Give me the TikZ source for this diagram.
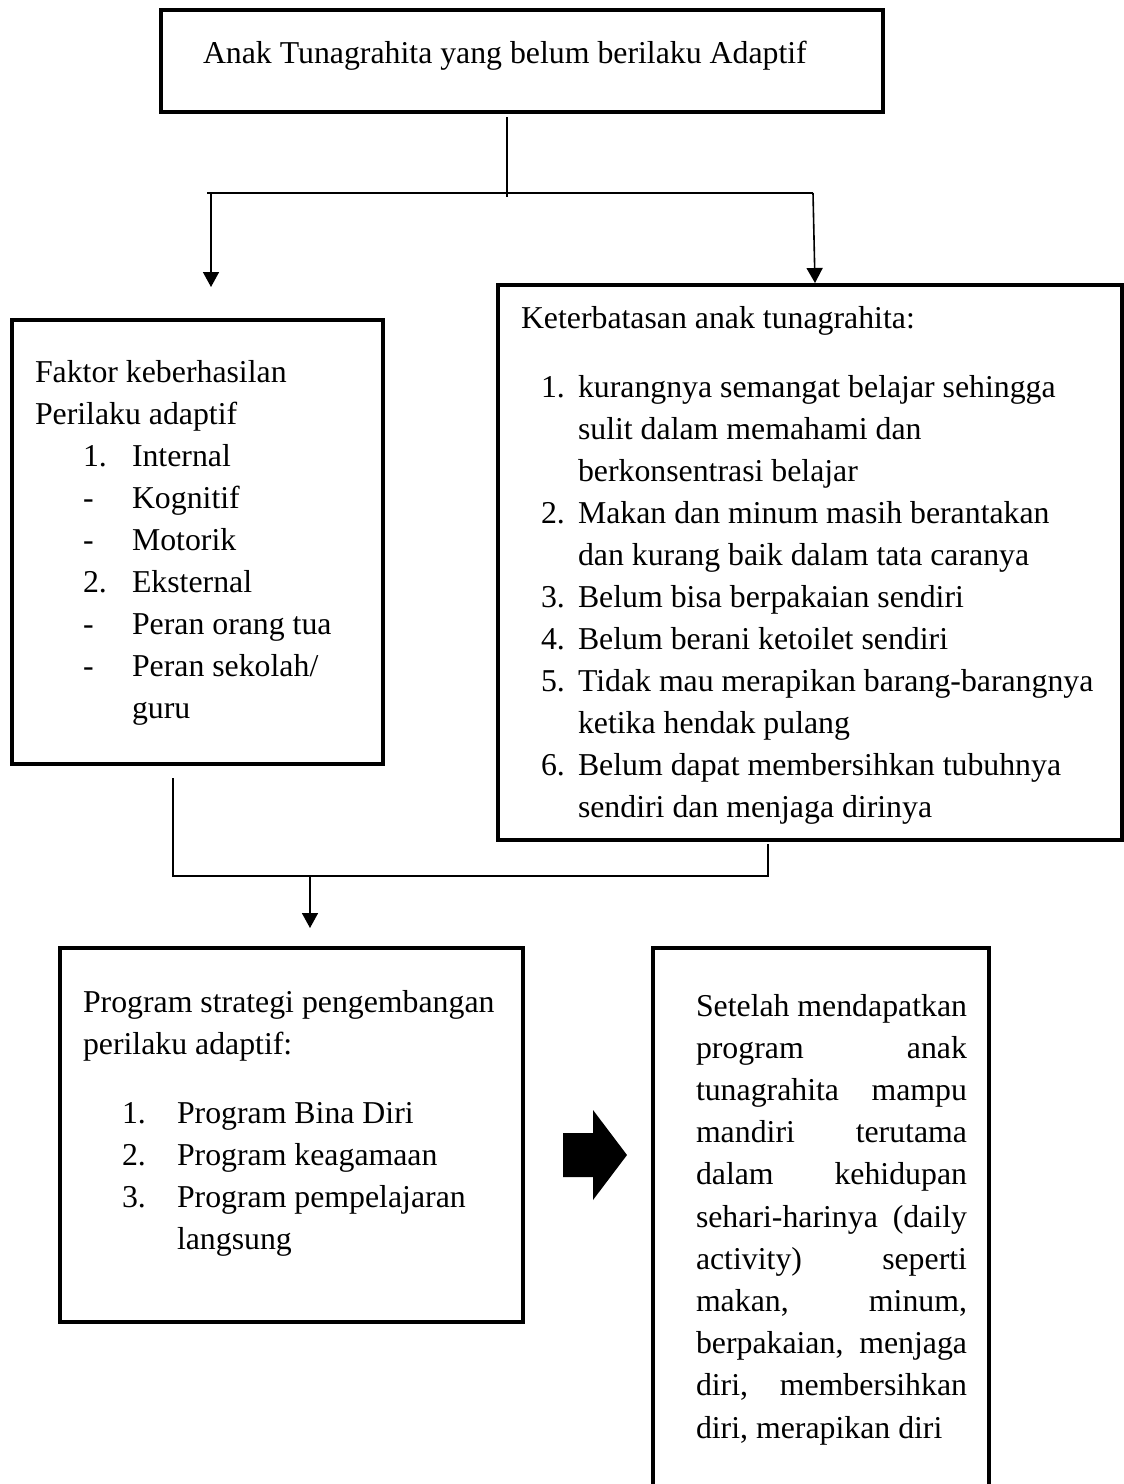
\documentclass[tikz,border=0pt]{standalone}
\usepackage{fontspec}
\setmainfont{Liberation Serif}
\usetikzlibrary{arrows.meta,calc}
\newcommand{\jline}[2]{\makebox[271pt][l]{#1\hfill#2}}
\begin{document}
\begin{tikzpicture}[x=1pt,y=-1pt,
  box/.style={draw, line width=4.5pt, rectangle, inner sep=0pt, outer sep=0pt, anchor=north west, line join=miter},
  conn/.style={line width=1.6pt},
  arr/.style={line width=1.6pt, -{Triangle[length=15pt,width=16pt]}},
  txt/.style={anchor=base west, inner sep=0pt, outer sep=0pt, font=\fontsize{31.8}{42}\selectfont}]
\useasboundingbox (0,0) rectangle (1124,1484);
\clip (0,0) rectangle (1124,1484);

% boxes
\node[box, minimum width=722pt, minimum height=102pt] (top) at (161,10) {};
\node[box, minimum width=371pt, minimum height=444pt] (faktor) at (12,320) {};
\node[box, minimum width=624pt, minimum height=555pt] (kb) at (498,285) {};
\node[box, minimum width=463pt, minimum height=374pt] (prog) at (60,948) {};
\node[box, minimum width=336pt, minimum height=600pt] (hasil) at (653,948) {};

% top connectors
\coordinate (jt) at (507,197);
\coordinate (hl) at (207,193);
\coordinate (hr) at (813,193);
\coordinate (la) at (211,287);
\draw[conn, shorten <=5pt] (top.south -| jt) -- (jt);
\draw[conn] (hl) -- (hr);
\draw[arr] (la |- hl) -- (la);
\draw[arr] (hr) -- ($(kb.north west)+(317,-2)$);

% bottom connectors
\coordinate (bl) at (173,876);
\coordinate (br) at (768,876);
\coordinate (pa) at (310,928);
\draw[conn, shorten <=14pt, shorten >=4pt] (faktor.south -| bl) -- (bl) -- (br) -- (kb.south -| br);
\draw[arr] (pa |- bl) -- (pa);

% block arrow
\fill (563,1133) -- (593,1133) -- (593,1110) -- (627,1155) -- (593,1200) -- (593,1177) -- (563,1177) -- cycle;

% top text
\node[txt] (t0) at (203,63) {Anak Tunagrahita yang belum berilaku Adaptif};

% faktor text
\node[txt] (f1) at (35,382) {Faktor keberhasilan};
\node[txt] (f2) at (35,424) {Perilaku adaptif};
\node[txt] (f3n) at (83,466) {1.};
\node[txt] (f3) at (132,466) {Internal};
\node[txt] (f4n) at (83,508) {-};
\node[txt] (f4) at (132,508) {Kognitif};
\node[txt] (f5n) at (83,550) {-};
\node[txt] (f5) at (132,550) {Motorik};
\node[txt] (f6n) at (83,592) {2.};
\node[txt] (f6) at (132,592) {Eksternal};
\node[txt] (f7n) at (83,634) {-};
\node[txt] (f7) at (132,634) {Peran orang tua};
\node[txt] (f8n) at (83,676) {-};
\node[txt] (f8) at (132,676) {Peran sekolah/};
\node[txt] (f9) at (132,718) {guru};

% keterbatasan text
\node[txt] (k0) at (521,328) {Keterbatasan anak tunagrahita:};
\node[txt] (k1n) at (541,397) {1.};
\node[txt] (k1) at (578,397) {kurangnya semangat belajar sehingga};
\node[txt] (k1b) at (578,439) {sulit dalam memahami dan};
\node[txt] (k1c) at (578,481) {berkonsentrasi belajar};
\node[txt] (k2n) at (541,523) {2.};
\node[txt] (k2) at (578,523) {Makan dan minum masih berantakan};
\node[txt] (k2b) at (578,565) {dan kurang baik dalam tata caranya};
\node[txt] (k3n) at (541,607) {3.};
\node[txt] (k3) at (578,607) {Belum bisa berpakaian sendiri};
\node[txt] (k4n) at (541,649) {4.};
\node[txt] (k4) at (578,649) {Belum berani ketoilet sendiri};
\node[txt] (k5n) at (541,691) {5.};
\node[txt] (k5) at (578,691) {Tidak mau merapikan barang-barangnya};
\node[txt] (k5b) at (578,733) {ketika hendak pulang};
\node[txt] (k6n) at (541,775) {6.};
\node[txt] (k6) at (578,775) {Belum dapat membersihkan tubuhnya};
\node[txt] (k6b) at (578,817) {sendiri dan menjaga dirinya};

% program text
\node[txt] (p0) at (83,1012) {Program strategi pengembangan};
\node[txt] (p0b) at (83,1054) {perilaku adaptif:};
\node[txt] (p1n) at (122,1123) {1.};
\node[txt] (p1) at (177,1123) {Program Bina Diri};
\node[txt] (p2n) at (122,1165) {2.};
\node[txt] (p2) at (177,1165) {Program keagamaan};
\node[txt] (p3n) at (122,1207) {3.};
\node[txt] (p3) at (177,1207) {Program pempelajaran};
\node[txt] (p3b) at (177,1249) {langsung};

% result text
\node[txt] (h1) at (696,1016) {\jline{Setelah}{mendapatkan}};
\node[txt] (h2) at (696,1058.2) {\jline{program}{anak}};
\node[txt] (h3) at (696,1100.4) {\jline{tunagrahita}{mampu}};
\node[txt] (h4) at (696,1142.6) {\jline{mandiri}{terutama}};
\node[txt] (h5) at (696,1184.8) {\jline{dalam}{kehidupan}};
\node[txt] (h6) at (696,1227) {\jline{sehari-harinya}{(daily}};
\node[txt] (h7) at (696,1269.2) {\jline{activity)}{seperti}};
\node[txt] (h8) at (696,1311.4) {\jline{makan,}{minum,}};
\node[txt] (h9) at (696,1353.6) {\jline{berpakaian,}{menjaga}};
\node[txt] (h10) at (696,1395.8) {\jline{diri,}{membersihkan}};
\node[txt] (h11) at (696,1438) {diri, merapikan diri};
\end{tikzpicture}
\end{document}
